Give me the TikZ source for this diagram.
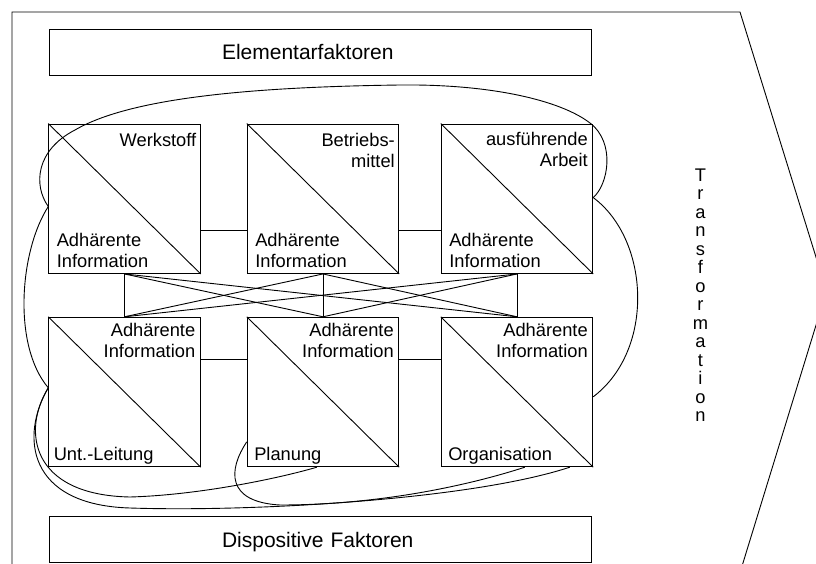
\documentclass[tikz,border=0pt]{standalone}
\usepackage{fontspec}
\setmainfont{Liberation Sans}
\begin{document}
\begin{tikzpicture}[x=1pt,y=-1pt,
  line width=0.9pt,
  every node/.style={inner sep=0pt},
  titlebox/.style={draw, inner xsep=173pt, inner ysep=0pt, text width=196pt,
    align=left, minimum height=46pt, text height=16pt, text depth=0pt,
    font=\fontsize{21}{25}\selectfont},
  factor/.style={draw, minimum width=151.5pt, minimum height=149.5pt},
  lbl/.style={font=\fontsize{18.3}{21}\selectfont},
  toplbl/.style={lbl, align=right, anchor=north east},
  botlbl/.style={lbl, align=left, anchor=south west},
  namelbl/.style={lbl, anchor=base west}
]
\useasboundingbox (0,0) rectangle (816,564);
\clip (0,0) rectangle (816,564);

% outer frame: arrow pointing right
\draw (12,600) -- (12,12) -- (740,12) -- (826.5,291) -- (731.6,600);

% title bars
\node[titlebox] (elem) at (320,52) {Elementarfaktoren};
\node[titlebox] (disp) at (320,539) {Dispositive Faktoren};

% factor squares
\node[factor] (w) at (124.5,198.75) {};
\node[factor] (b) at (323,198.75) {};
\node[factor] (a) at (517,198.75) {};
\node[factor] (u) at (124.5,392) {};
\node[factor] (p) at (323,392) {};
\node[factor] (o) at (517,392) {};
\foreach \n in {w,b,a,u,p,o}
  \draw (\n.north west) -- (\n.south east);

% labels of the elementary factors
\node[toplbl] (wl) at ([shift={(-4pt,-9pt)}]w.north east) {Werkstoff};
\node[toplbl] (bl) at ([shift={(-4pt,-9pt)}]b.north east) {Betriebs-\\mittel};
\node[toplbl] (al) at ([shift={(-5pt,-8pt)}]a.north east) {ausführende\\Arbeit};
\foreach \n in {w,b,a}
  \node[botlbl] (\n i) at ([shift={(8pt,6pt)}]\n.south west) {Adhärente\\Information};

% labels of the dispositive factors
\foreach \n in {u,p,o}
  \node[toplbl] (\n i) at ([shift={(-5pt,-6pt)}]\n.north east) {Adhärente\\Information};
\node[namelbl] (ul) at ([shift={(5pt,7pt)}]u.south west) {Unt.-Leitung};
\node[namelbl] (pl) at ([shift={(7pt,7pt)}]p.south west) {Planung};
\node[namelbl] (ol) at ([shift={(7pt,7pt)}]o.south west) {Organisation};

% straight links within the rows
\draw ([yshift=-107pt]w.north east) -- ([yshift=-107pt]b.north west);
\draw ([yshift=-107pt]b.north east) -- ([yshift=-107pt]a.north west);
\draw ([yshift=-43pt]u.north east) -- ([yshift=-43pt]p.north west);
\draw ([yshift=-43pt]p.north east) -- ([yshift=-43pt]o.north west);

% links between the rows
\foreach \s in {w,b,a}
  \foreach \t in {u,p,o}
    \draw (\s.south) -- (\t.north);

% curved links
\draw ([yshift=-83pt]w.north west) .. controls (33,185) and (36,150) .. (75,130)
  .. controls (130,98) and (250,87) .. (400,85)
  .. controls (490,84) and (560,100) .. (590,123)
  .. controls (616,143) and (608,185) .. ([yshift=-74pt]a.north east);
\draw ([yshift=-83pt]w.north west) .. controls (20,250) and (12,345) .. ([yshift=-71pt]u.north west);
\draw ([yshift=-71pt]u.north west) .. controls (22,430) and (30,495) .. (130,497)
  .. controls (200,495) and (280,478) .. ([xshift=70pt]p.south west);
\draw ([yshift=-71pt]u.north west) .. controls (20,436) and (27,505) .. (130,508)
  .. controls (250,512) and (470,500) .. ([xshift=129pt]o.south west);
\draw ([yshift=-125pt]p.north west) .. controls (228,470) and (226,502) .. (280,505)
  .. controls (380,505) and (470,485) .. ([xshift=84pt]o.south west);
\draw ([yshift=-74pt]a.north east) .. controls (650,240) and (655,350) .. ([yshift=-80pt]o.north east);

% vertical caption
\node[font=\fontsize{18.3}{18.5}\selectfont, align=center, anchor=north] (tr) at (700.5,168)
  {T\\r\\a\\n\\s\\f\\o\\r\\m\\a\\t\\i\\o\\n};
\end{tikzpicture}
\end{document}
